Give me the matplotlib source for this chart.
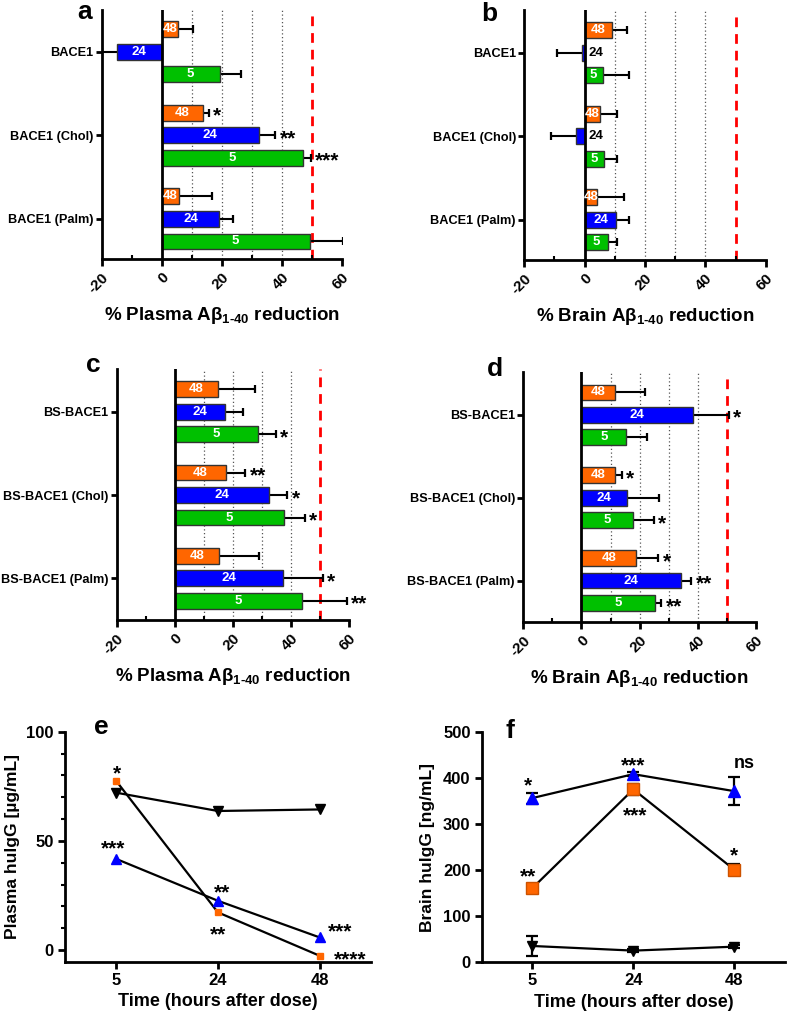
import matplotlib
matplotlib.use('Agg')
import matplotlib.pyplot as plt
import numpy as np
from matplotlib.ticker import MultipleLocator

plt.rcParams['font.family'] = ['Liberation Sans', 'DejaVu Sans']
plt.rcParams['font.weight'] = 'bold'
plt.rcParams['mathtext.fontset'] = 'custom'
plt.rcParams['mathtext.rm'] = 'Liberation Sans:bold'
plt.rcParams['mathtext.bf'] = 'Liberation Sans:bold'
plt.rcParams['mathtext.it'] = 'Liberation Sans:bold'
plt.rcParams['mathtext.default'] = 'bf'

# ---------------- data ----------------
times = ["48", "24", "5"]          # bar order, top to bottom in each group
cats_ab = ["BACE1", "BACE1 (Chol)", "BACE1 (Palm)"]
cats_cd = ["BS-BACE1", "BS-BACE1 (Chol)", "BS-BACE1 (Palm)"]

# panel a: % plasma Abeta reduction
a_48 = [5.3, 13.6, 5.8];    a_48_err = [5.0, 2.2, 10.8];  a_48_sig = ["", "*", ""]
a_24 = [-15.0, 32.4, 19.2]; a_24_err = [5.0, 5.5, 4.4];   a_24_sig = ["", "**", ""]
a_5 = [19.3, 47.0, 49.3];   a_5_err = [7.0, 2.7, 11.0];   a_5_sig = ["", "***", "*"]

# panel b: % brain Abeta reduction
b_48 = [9.0, 5.0, 4.1];     b_48_err = [5.2, 5.7, 9.1];   b_48_sig = ["", "", ""]
b_24 = [-0.9, -2.9, 10.5];  b_24_err = [8.3, 8.2, 4.1];   b_24_sig = ["", "", ""]
b_5 = [6.0, 6.3, 7.7];      b_5_err = [8.6, 4.4, 3.1];    b_5_sig = ["", "", ""]

# panel c: % plasma Abeta reduction (BS-BACE1)
c_48 = [14.9, 17.6, 15.1];  c_48_err = [12.6, 6.7, 13.9]; c_48_sig = ["", "**", ""]
c_24 = [17.2, 32.3, 37.3];  c_24_err = [6.2, 6.5, 13.8];  c_24_sig = ["", "*", "*"]
c_5 = [28.6, 37.6, 43.8];   c_5_err = [6.3, 7.1, 15.4];   c_5_sig = ["*", "*", "**"]

# panel d: % brain Abeta reduction (BS-BACE1)
d_48 = [11.6, 11.6, 18.9];  d_48_err = [10.2, 2.2, 7.5];  d_48_sig = ["", "*", "*"]
d_24 = [38.4, 15.6, 34.1];  d_24_err = [12.3, 11.0, 3.7]; d_24_sig = ["*", "", "**"]
d_5 = [15.4, 17.8, 25.3];   d_5_err = [7.2, 7.0, 2.2];    d_5_sig = ["", "*", "**"]

# panel e: plasma huIgG (ug/mL)
hours = ["5", "24", "48"]
e_black = [72.1, 63.7, 64.4]
e_orange = [77.6, 17.3, -2.6]
e_blue = [41.8, 22.6, 5.8]
e_orange_sig = ["*", "**", "****"]
e_blue_sig = ["***", "**", "***"]

# panel f: brain huIgG (ng/mL)
f_black = [35.5, 25.4, 34.0];   f_black_err = [22, 3, 3]
f_orange = [161, 376, 201];     f_orange_err = [10, 12, 12]
f_blue = [357, 409, 372];       f_blue_err = [12, 4, 30]
f_orange_sig = ["**", "***", "*"]
f_blue_sig = ["*", "***", "ns"]

# ---------------- style ----------------
ORANGE = '#FF6600'
BLUE = '#0000FF'
GREEN = '#00C000'
bar_colors = [ORANGE, BLUE, GREEN]
bar_offsets = [-0.27, 0.0, 0.27]
bar_h = 0.19
STAR_FS = 15

fig = plt.figure(figsize=(7.9, 10.15), dpi=100)
W, H = 790.0, 1015.0


def rect_px(l, t, r, b):
    return [l / W, 1 - b / H, (r - l) / W, (b - t) / H]


def xlabel_text(kind):
    return '%% %s A\u03b2$_{1\u201040}$ reduction' % kind


def bar_panel(rect, cats, vals, errs, sigs, kind, ylim):
    ax = fig.add_axes(rect)
    centers = np.arange(len(cats))
    for k in range(3):
        v = np.array(vals[k], dtype=float)
        e = np.array(errs[k], dtype=float)
        y = centers + bar_offsets[k]
        sgn = np.where(v < 0, -1.0, 1.0)
        ax.barh(y, v, height=bar_h, color=bar_colors[k], edgecolor='#333333',
                linewidth=1.0, zorder=3)
        ends = v + sgn * e
        ax.hlines(y, v, ends, color='black', lw=1.5, zorder=2)
        ax.plot(ends, y, ls='none', marker='|', ms=6, mew=1.6, color='black', zorder=2)
        for i in range(len(v)):
            if v[i] < 0 and abs(v[i]) < 5:
                ax.text(1.2, y[i], times[k], color='black', fontsize=9.5,
                        fontweight='bold', ha='left', va='center', zorder=5)
            else:
                ax.text(v[i] / 2.0, y[i], times[k], color='white', fontsize=9.5,
                        fontweight='bold', ha='center', va='center', zorder=5)
            if sigs[k][i]:
                ax.annotate(sigs[k][i], (ends[i], y[i]), xytext=(3, -2.5),
                            textcoords='offset points', ha='left', va='center',
                            fontsize=STAR_FS, fontweight='bold', zorder=5)
    ax.axvline(0, color='black', lw=2, zorder=4)
    for g in [10, 20, 30, 40]:
        ax.axvline(g, color='#555555', ls=(0, (1, 2)), lw=0.9, zorder=1)
    ax.axvline(50, color='#FF0000', ls=(0, (3.5, 2.5)), lw=2, zorder=1)
    ax.set_xlim(-20, 60)
    ax.set_ylim(*ylim)
    for s in ['top', 'right']:
        ax.spines[s].set_visible(False)
    for s in ['left', 'bottom']:
        ax.spines[s].set_linewidth(2)
    ax.set_yticks(centers)
    ax.set_yticklabels(cats, fontsize=9.2, fontweight='bold')
    ax.tick_params(axis='y', length=4, width=2, pad=2)
    ax.set_xticks([-20, 0, 20, 40, 60])
    ax.set_xticklabels(['-20', '0', '20', '40', '60'], rotation=45, ha='right',
                       va='top', rotation_mode='anchor', fontsize=11, fontweight='bold')
    ax.xaxis.set_minor_locator(MultipleLocator(10))
    ax.tick_params(axis='x', which='major', length=5, width=2, pad=3)
    ax.tick_params(axis='x', which='minor', direction='in', length=3, width=1.5)
    ax.text(0.5, -0.225, xlabel_text(kind), transform=ax.transAxes, ha='center',
            va='center', fontsize=13.5, fontweight='bold')
    return ax


bar_panel(rect_px(101.7, 10, 341.7, 259), cats_ab,
          [a_48, a_24, a_5], [a_48_err, a_24_err, a_5_err],
          [a_48_sig, a_24_sig, a_5_sig], 'Plasma', (2.48, -0.5))
bar_panel(rect_px(524.3, 10, 765.7, 260), cats_ab,
          [b_48, b_24, b_5], [b_48_err, b_24_err, b_5_err],
          [b_48_sig, b_24_sig, b_5_sig], 'Brain', (2.48, -0.51))
bar_panel(rect_px(116.7, 369.3, 349, 620), cats_cd,
          [c_48, c_24, c_5], [c_48_err, c_24_err, c_5_err],
          [c_48_sig, c_24_sig, c_5_sig], 'Plasma', (2.5, -0.51))
bar_panel(rect_px(523.3, 371.7, 756, 622), cats_cd,
          [d_48, d_24, d_5], [d_48_err, d_24_err, d_5_err],
          [d_48_sig, d_24_sig, d_5_sig], 'Brain', (2.5, -0.52))


def line_axes(rect, ylim, yticks, minor, ylabel, ylabel_x):
    ax = fig.add_axes(rect)
    ax.set_xlim(-0.5, 2.5)
    ax.set_ylim(*ylim)
    for s in ['top', 'right']:
        ax.spines[s].set_visible(False)
    for s in ['left', 'bottom']:
        ax.spines[s].set_linewidth(2)
    ax.set_xticks(np.arange(len(hours)))
    ax.set_xticklabels(hours, fontsize=12, fontweight='bold')
    ax.set_yticks(yticks)
    ax.set_yticklabels([str(t) for t in yticks], fontsize=12, fontweight='bold')
    if minor:
        ax.yaxis.set_minor_locator(MultipleLocator(minor))
        ax.tick_params(axis='y', which='minor', length=3, width=1.5)
    ax.tick_params(axis='both', which='major', length=5, width=2, pad=3)
    ax.text(ylabel_x, 0.5, ylabel, transform=ax.transAxes, rotation=90,
            ha='center', va='center', fontsize=12.5, fontweight='bold')
    ax.text(0.5, -0.175, 'Time (hours after dose)', transform=ax.transAxes,
            ha='center', va='center', fontsize=13, fontweight='bold')
    return ax


def sig_labels(ax, x, y, labels, offsets):
    for xi, yi, lab, off in zip(x, y, labels, offsets):
        ax.annotate(lab, (xi, yi), xytext=off, textcoords='offset points',
                    ha='center', va='center', fontsize=STAR_FS if '*' in lab else 13,
                    fontweight='bold')


# panel e
x = np.arange(len(hours))
axe = line_axes(rect_px(65, 731.7, 370.7, 961.7), (-5.3, 100), [0, 50, 100], 10,
                'Plasma hulgG [\u00b5g/mL]', -0.172)
axe.plot(x, e_black, color='black', lw=1.6, marker='v', ms=7, mfc='black', mec='black', zorder=3)
axe.plot(x, e_orange, color='black', lw=1.6, marker='s', ms=5, mfc=ORANGE, mec=ORANGE, zorder=3)
axe.plot(x, e_blue, color='black', lw=1.6, marker='^', ms=7.5, mfc=BLUE, mec=BLUE, zorder=3)
sig_labels(axe, x, e_orange, e_orange_sig, [(1, 5), (0, -16), (22, -3)])
sig_labels(axe, x, e_blue, e_blue_sig, [(-2, 7), (3, 6), (15, 4)])

# panel f
axf = line_axes(rect_px(481.7, 732.3, 785, 962.3), (0, 500), [0, 100, 200, 300, 400, 500],
                None, 'Brain hulgG [ng/mL]', -0.18)
axf.errorbar(x, f_black, yerr=f_black_err, color='black', lw=1.6, marker='v', ms=6.5,
             mfc='black', mec='black', capsize=4, capthick=1.6, elinewidth=1.6, zorder=3)
axf.errorbar(x, f_orange, yerr=f_orange_err, color='black', lw=1.6, marker='s', ms=8,
             mfc=ORANGE, mec='#CC5200', capsize=4, capthick=1.6, elinewidth=1.6, zorder=3)
axf.errorbar(x, f_blue, yerr=f_blue_err, color='black', lw=1.6, marker='^', ms=8,
             mfc=BLUE, mec=BLUE, capsize=4, capthick=1.6, elinewidth=1.6, zorder=3)
sig_labels(axf, x, f_orange, f_orange_sig, [(-3, 8), (1, -19), (0, 10)])
sig_labels(axf, x, f_blue, f_blue_sig, [(-3, 9), (0, 6), (7, 20)])

# panel letters
letters = ['a', 'b', 'c', 'd', 'e', 'f']
letter_pos = [(77, 19), (481, 21), (86, 372), (487, 376), (94, 734), (505, 738)]
for lab, (px, py) in zip(letters, letter_pos):
    fig.text(px / W, 1 - py / H, lab, fontsize=19, fontweight='bold',
             ha='left', va='baseline')

fig.savefig('out.png', dpi=100)
